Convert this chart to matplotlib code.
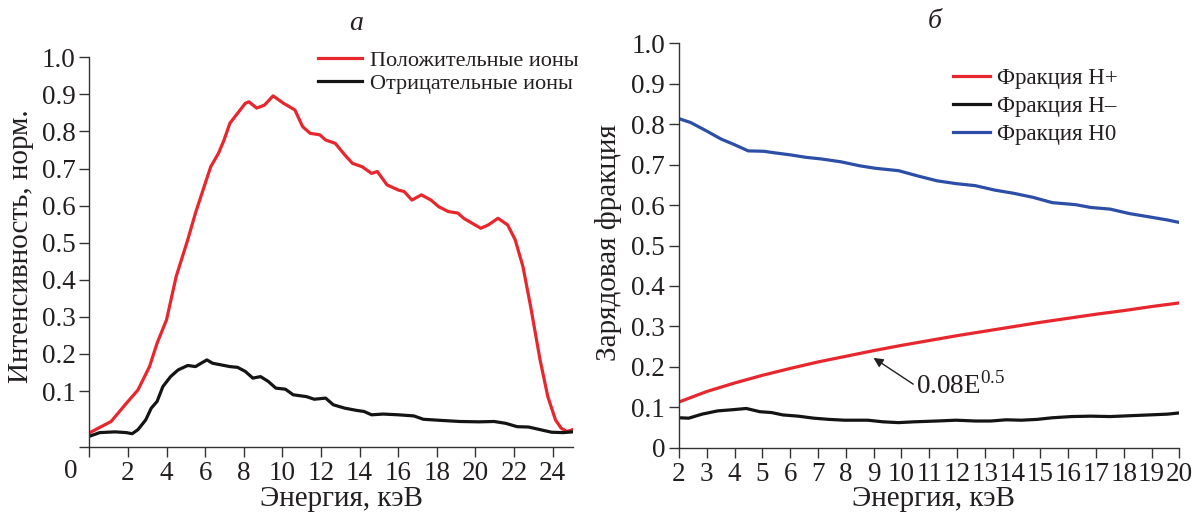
import numpy as np
import matplotlib
matplotlib.use("Agg")
import matplotlib.pyplot as plt

plt.rcParams['font.family'] = ['Liberation Serif', 'DejaVu Serif']
plt.rcParams['mathtext.fontset'] = 'custom'
plt.rcParams['mathtext.rm'] = 'Liberation Serif'

# ---- panel (а): energy spectra of scattered ions ----
energy_a = [0.0, 0.54, 1.13, 1.92, 2.52, 3.12, 3.51, 4.0, 4.5, 5.1, 5.5, 5.89, 6.29,
            6.69, 6.98, 7.28, 7.68, 8.08, 8.27, 8.67, 9.07, 9.52, 10.06, 10.65,
            11.05, 11.44, 11.94, 12.24, 12.74, 13.23, 13.63, 14.13, 14.62, 14.92,
            15.42, 16.01, 16.31, 16.71, 17.2, 17.7, 18.1, 18.6, 19.09, 19.39,
            19.98, 20.28, 20.67, 21.17, 21.67, 22.06, 22.46, 22.86, 23.35, 23.75,
            24.15, 24.44, 24.74, 25.04]
positive_ions = [-0.013, 0.002, 0.018, 0.067, 0.103, 0.166, 0.229, 0.292, 0.409, 0.508,
                 0.580, 0.642, 0.705, 0.741, 0.777, 0.822, 0.849, 0.876, 0.880, 0.863,
                 0.871, 0.896, 0.876, 0.858, 0.813, 0.795, 0.791, 0.777, 0.768, 0.737,
                 0.714, 0.705, 0.687, 0.692, 0.656, 0.642, 0.638, 0.615, 0.629, 0.615,
                 0.597, 0.584, 0.580, 0.566, 0.548, 0.539, 0.548, 0.566, 0.548, 0.508,
                 0.436, 0.328, 0.184, 0.085, 0.022, 0.000, -0.009, -0.004]

energy_neg = [0.0, 0.54, 1.33, 1.92, 2.22, 2.52, 2.92, 3.21, 3.51, 3.81, 4.21, 4.6,
              5.1, 5.5, 5.79, 6.09, 6.39, 6.79, 7.28, 7.68, 8.08, 8.47, 8.87, 9.27,
              9.66, 10.16, 10.56, 11.25, 11.65, 12.24, 12.64, 13.23, 13.83, 14.23,
              14.62, 15.22, 16.01, 16.81, 17.3, 18.2, 19.19, 20.18, 20.97, 21.57,
              22.16, 22.76, 23.35, 23.95, 24.54, 25.04]
negative_ions = [-0.022, -0.012, -0.010, -0.012, -0.015, -0.004, 0.022, 0.054, 0.072,
                 0.112, 0.139, 0.157, 0.169, 0.166, 0.175, 0.184, 0.175, 0.171, 0.166,
                 0.164, 0.153, 0.135, 0.139, 0.126, 0.108, 0.105, 0.090, 0.085, 0.078,
                 0.081, 0.063, 0.054, 0.048, 0.045, 0.036, 0.038, 0.036, 0.033, 0.024,
                 0.021, 0.018, 0.017, 0.018, 0.013, 0.004, 0.003, -0.004, -0.011,
                 -0.012, -0.010]

# ---- panel (б): charge fractions of hydrogen ----
energy_plus = [2, 3, 4, 5, 6, 7, 8, 9, 10, 11, 12, 13, 14, 15, 16, 17, 18, 19, 20]
fraction_h_plus = [0.113, 0.139, 0.160, 0.179, 0.196, 0.212, 0.226, 0.240, 0.253,
                   0.265, 0.277, 0.288, 0.299, 0.310, 0.320, 0.330, 0.339, 0.349, 0.358]

energy_minus = [2.0, 2.35, 2.83, 3.39, 3.94, 4.42, 4.91, 5.32, 5.74, 6.29, 6.85, 7.4,
                7.96, 8.79, 9.34, 9.9, 10.45, 11.28, 11.97, 12.66, 13.22, 13.77, 14.32,
                14.88, 15.43, 16.12, 16.82, 17.51, 18.2, 18.9, 19.58, 20.0]
fraction_h_minus = [0.074, 0.073, 0.083, 0.091, 0.094, 0.097, 0.089, 0.087, 0.081,
                    0.078, 0.073, 0.070, 0.068, 0.068, 0.064, 0.062, 0.064, 0.066,
                    0.068, 0.066, 0.066, 0.069, 0.068, 0.070, 0.074, 0.077, 0.078,
                    0.077, 0.079, 0.081, 0.083, 0.086]

energy_zero = [2.03, 2.42, 2.97, 3.52, 3.94, 4.49, 5.05, 5.46, 6.02, 6.57, 7.12, 7.82,
               8.51, 9.06, 9.9, 10.59, 11.28, 11.97, 12.66, 13.36, 14.05, 14.74, 15.43,
               16.27, 16.82, 17.51, 18.2, 18.9, 19.58, 20.0]
fraction_h_zero = [0.813, 0.804, 0.784, 0.763, 0.751, 0.734, 0.733, 0.729, 0.724,
                   0.718, 0.714, 0.707, 0.697, 0.691, 0.685, 0.672, 0.660, 0.653,
                   0.648, 0.637, 0.629, 0.619, 0.606, 0.601, 0.594, 0.590, 0.579,
                   0.571, 0.563, 0.557]

ticks_a = [0, 2, 4, 6, 8, 10, 12, 14, 16, 18, 20, 22, 24]
ticks_b = list(range(2, 21))
yticks_a = [0.1, 0.2, 0.3, 0.4, 0.5, 0.6, 0.7, 0.8, 0.9, 1.0]
yticks_b = [0, 0.1, 0.2, 0.3, 0.4, 0.5, 0.6, 0.7, 0.8, 0.9, 1.0]

RED = '#e8262d'
BLACK = '#141414'
BLUE = '#2d4ea6'
SPINE = '#333333'
TXT = '#231f20'
TICK_FS = 19.5
LABEL_FS = 21

W, H = 1195, 512
fig = plt.figure(figsize=(W / 100, H / 100), dpi=100)


def px_box(x0, y0, x1, y1):
    return [x0 / W, 1 - y1 / H, (x1 - x0) / W, (y1 - y0) / H]


def style_axes(ax):
    for s in ('top', 'right'):
        ax.spines[s].set_visible(False)
    for s in ('left', 'bottom'):
        ax.spines[s].set_color(SPINE)
        ax.spines[s].set_linewidth(1.0)
    ax.tick_params(direction='out', length=7, width=1.0, color=SPINE,
                   labelsize=TICK_FS, labelcolor=TXT, pad=3)


# panel а
ax1 = fig.add_axes(px_box(89.3, 57.3, 573.3, 446.7))
style_axes(ax1)
ax1.plot(energy_a, positive_ions, color=RED, lw=2.3, label='Положительные ионы')
ax1.plot(energy_neg, negative_ions, color=BLACK, lw=2.3, label='Отрицательные ионы')
ax1.set_xlim(0, 25.07)
ax1.set_ylim(-0.05, 1.0)
ax1.set_xticks(ticks_a)
ax1.set_xticklabels([''] + [str(t) for t in ticks_a[1:]])
ax1.set_yticks([-0.05] + yticks_a)
ax1.set_yticklabels([''] + [f'{v:.1f}' for v in yticks_a])
ax1.set_xlabel('Энергия, кэВ', fontsize=LABEL_FS, color=TXT, va='center')
ax1.set_ylabel('Интенсивность, норм.', fontsize=LABEL_FS, color=TXT, va='center')
ax1.xaxis.set_label_coords(0.52, -0.134)
ax1.yaxis.set_label_coords(-0.141, 0.515)
fig.text(70.7 / W, 1 - 471.7 / H, '0', fontsize=TICK_FS, color=TXT,
         ha='center', va='center')
fig.text(356 / W, 1 - 23 / H, 'а', fontsize=20, color=TXT, style='italic',
         ha='center', va='center')
ax1.legend(loc='upper left', bbox_to_anchor=(318 / W, 1 - 50 / H),
           bbox_transform=fig.transFigure, frameon=False, fontsize=16,
           handlelength=2.0, handletextpad=0.35, labelspacing=0.12, borderpad=0,
           borderaxespad=0, labelcolor=TXT)

# panel б
ax2 = fig.add_axes(px_box(679, 43.3, 1179.3, 447.7))
style_axes(ax2)
ax2.plot(energy_plus, fraction_h_plus, color=RED, lw=2.3, label='Фракция H+')
ax2.plot(energy_minus, fraction_h_minus, color=BLACK, lw=2.3, label='Фракция H–')
ax2.plot(energy_zero, fraction_h_zero, color=BLUE, lw=2.3, label='Фракция H0')
ax2.set_xlim(2, 20)
ax2.set_ylim(0, 1.0)
ax2.set_xticks(ticks_b)
ax2.set_yticks(yticks_b)
ax2.set_yticklabels(['0'] + [f'{v:.1f}' for v in yticks_b[1:]])
ax2.set_xlabel('Энергия, кэВ', fontsize=LABEL_FS, color=TXT, va='center')
ax2.set_ylabel('Зарядовая фракция', fontsize=LABEL_FS, color=TXT, va='center')
ax2.xaxis.set_label_coords(0.508, -0.127)
ax2.yaxis.set_label_coords(-0.14, 0.506)
fig.text(935 / W, 1 - 22 / H, 'б', fontsize=20, color=TXT, style='italic',
         ha='center', va='center')
ax2.legend(loc='upper left', bbox_to_anchor=(953 / W, 1 - 68 / H),
           bbox_transform=fig.transFigure, frameon=False, fontsize=16.5,
           handlelength=1.6, handletextpad=0.3, labelspacing=0.3, borderpad=0,
           borderaxespad=0, labelcolor=TXT)
ax2.annotate('0.08E$^{0.5}$', xy=(9.0, 0.222), xytext=(916 / W, 1 - 386 / H),
             textcoords='figure fraction', fontsize=19.5, color=TXT,
             ha='left', va='center',
             arrowprops=dict(arrowstyle='-|>', color=TXT, lw=1.0,
                             mutation_scale=14, shrinkA=0, shrinkB=0,
                             relpos=(0, 0.5)))

fig.savefig('out.png', dpi=100)
